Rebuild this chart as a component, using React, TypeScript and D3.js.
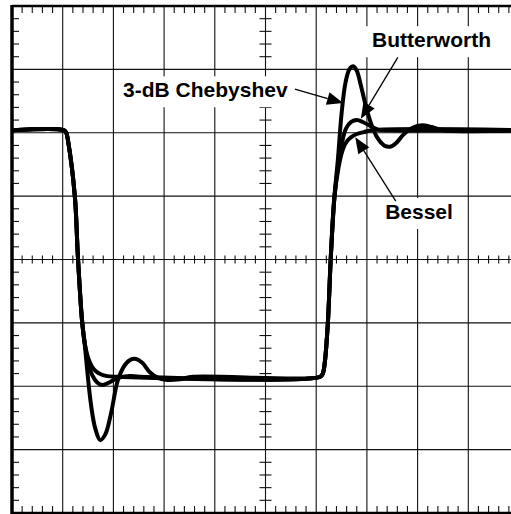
import React, { useEffect, useRef } from 'react';
import * as d3 from 'd3';

type Pt = [number, number];

// time and amplitude both in screen divisions (10 x 8 graticule)
const sharedFall: Pt[] = [
  [0, 2.04], [1.02, 2.04], [1.07, 2.0], [1.11, 1.85], [1.24, 0.99],
  [1.3, 0.04], [1.38, -0.95], [1.43, -1.3],
];
const sharedRise: Pt[] = [
  [6.08, -1.85], [6.13, -1.8], [6.17, -1.62], [6.23, -1.0], [6.29, 0.07], [6.36, 0.99],
];

const chebyFall: Pt[] = [
  [1.49, -1.8], [1.56, -2.3], [1.64, -2.66], [1.74, -2.85], [1.84, -2.76], [1.95, -2.44],
  [2.09, -1.9], [2.23, -1.66], [2.34, -1.58], [2.45, -1.57], [2.57, -1.63], [2.72, -1.78],
  [2.86, -1.86], [3.06, -1.9], [3.31, -1.89], [3.57, -1.85],
];
const chebyRise: Pt[] = [
  [6.43, 1.6], [6.5, 2.3], [6.58, 2.8], [6.66, 3.01], [6.73, 3.05], [6.8, 2.98],
  [6.88, 2.75], [6.98, 2.42], [7.08, 2.15], [7.2, 1.93], [7.34, 1.8], [7.46, 1.78],
  [7.58, 1.84], [7.72, 1.97], [7.9, 2.08], [8.09, 2.12], [8.28, 2.09], [8.5, 2.04], [10.2, 2.04],
];

const butterFall: Pt[] = [
  [1.5, -1.62], [1.58, -1.82], [1.68, -1.94], [1.78, -1.98], [1.89, -1.95], [2.01, -1.9],
  [2.13, -1.86], [2.33, -1.84], [2.52, -1.85],
];
const butterRise: Pt[] = [
  [6.44, 1.52], [6.51, 1.85], [6.59, 2.07], [6.69, 2.17], [6.8, 2.2], [6.92, 2.17],
  [7.06, 2.11], [7.22, 2.05], [7.45, 2.04], [10.2, 2.04],
];

const besselFall: Pt[] = [
  [1.5, -1.55], [1.57, -1.68], [1.65, -1.76], [1.75, -1.81], [1.88, -1.84], [2.05, -1.85],
];
const besselRise: Pt[] = [
  [6.44, 1.45], [6.51, 1.7], [6.59, 1.85], [6.69, 1.93], [6.8, 1.98], [6.94, 2.01],
  [7.1, 2.04], [10.2, 2.04],
];

const seriesNames = ['3-dB Chebyshev', 'Butterworth', 'Bessel'];

// label anchor (text start, baseline) and arrow tail -> tip, in divisions
const labelAt: Pt[] = [[2.19, 2.56], [7.1, 3.35], [7.36, 0.64]];
const arrowFrom: Pt[] = [[5.58, 2.69], [7.61, 3.19], [7.57, 0.92]];
const arrowTo: Pt[] = [[6.53, 2.47], [6.88, 2.22], [6.77, 1.93]];

const W = 511;
const H = 514;

const App: React.FC = () => {
  const svgRef = useRef<SVGSVGElement>(null);

  useEffect(() => {
    if (!svgRef.current) return;
    const svg = d3.select(svgRef.current);
    svg.selectAll('*').remove();

    const x = d3.scaleLinear().domain([0, 10]).range([12, 519]);
    const y = d3.scaleLinear().domain([-4, 4]).range([513, 6]);

    svg.append('rect').attr('width', W).attr('height', H).attr('fill', '#fff');

    const grid = svg.append('g').attr('stroke', '#111').attr('stroke-width', 1.1);

    // major divisions
    d3.range(1, 10).forEach(i => {
      grid.append('line')
        .attr('x1', x(i)).attr('x2', x(i)).attr('y1', y(4)).attr('y2', y(-4));
    });
    d3.range(-3, 4).forEach(j => {
      grid.append('line')
        .attr('x1', x(0)).attr('x2', x(10)).attr('y1', y(j)).attr('y2', y(j));
    });

    // minor ticks
    const xMinor = d3.range(1, 50).map(k => k / 5).filter(v => Math.abs(v - Math.round(v)) > 1e-6);
    const yMinor = d3.range(-19, 20).map(k => k / 5).filter(v => Math.abs(v - Math.round(v)) > 1e-6);
    xMinor.forEach(v => {
      grid.append('line').attr('x1', x(v)).attr('x2', x(v)).attr('y1', y(4)).attr('y2', y(4) + 7);
      grid.append('line').attr('x1', x(v)).attr('x2', x(v)).attr('y1', y(-4)).attr('y2', y(-4) - 7);
      grid.append('line').attr('x1', x(v)).attr('x2', x(v)).attr('y1', y(0) - 4).attr('y2', y(0) + 4);
    });
    yMinor.forEach(v => {
      grid.append('line').attr('x1', x(0)).attr('x2', x(0) + 7).attr('y1', y(v)).attr('y2', y(v));
      grid.append('line').attr('x1', x(5) - 6).attr('x2', x(5) + 6).attr('y1', y(v)).attr('y2', y(v));
    });

    // frame
    svg.append('line').attr('x1', x(0)).attr('x2', x(10)).attr('y1', y(4)).attr('y2', y(4))
      .attr('stroke', '#000').attr('stroke-width', 2.5);
    svg.append('line').attr('x1', x(0)).attr('x2', x(10)).attr('y1', y(-4)).attr('y2', y(-4))
      .attr('stroke', '#000').attr('stroke-width', 2.5);
    svg.append('line').attr('x1', x(0)).attr('x2', x(0)).attr('y1', y(4) - 1).attr('y2', y(-4) + 1)
      .attr('stroke', '#000').attr('stroke-width', 3.5);

    // labels with white backing boxes
    const labels = svg.append('g');
    seriesNames.forEach((name, i) => {
      const g = labels.append('g');
      const t = g.append('text')
        .attr('x', x(labelAt[i][0]))
        .attr('y', y(labelAt[i][1]))
        .attr('font-family', '"Liberation Sans", Arial, Helvetica, sans-serif')
        .attr('font-weight', 'bold')
        .attr('font-size', 21)
        .attr('fill', '#000')
        .text(name);
      const bb = (t.node() as SVGTextElement).getBBox();
      g.insert('rect', 'text')
        .attr('x', bb.x - 7).attr('y', bb.y - 2)
        .attr('width', bb.width + 14).attr('height', bb.height + 8)
        .attr('fill', '#fff');
    });

    // waveforms
    const line = d3.line<Pt>()
      .x(d => x(d[0]))
      .y(d => y(d[1]))
      .curve(d3.curveCatmullRom.alpha(0.5));

    const traces: Pt[][] = [
      [...sharedFall, ...chebyFall, ...sharedRise, ...chebyRise],
      [...sharedFall, ...butterFall, ...sharedRise, ...butterRise],
      [...sharedFall, ...besselFall, ...sharedRise, ...besselRise],
    ];
    traces.forEach(tr => {
      svg.append('path')
        .datum(tr)
        .attr('fill', 'none')
        .attr('stroke', '#000')
        .attr('stroke-width', 4)
        .attr('stroke-linejoin', 'round')
        .attr('d', line);
    });

    // arrows
    seriesNames.forEach((_, i) => {
      const x0 = x(arrowFrom[i][0]);
      const y0 = y(arrowFrom[i][1]);
      const x1 = x(arrowTo[i][0]);
      const y1 = y(arrowTo[i][1]);
      const len = Math.hypot(x1 - x0, y1 - y0);
      const ux = (x1 - x0) / len;
      const uy = (y1 - y0) / len;
      const headLen = 16;
      const headW = 6.5;
      const bx = x1 - ux * headLen;
      const by = y1 - uy * headLen;
      svg.append('line')
        .attr('x1', x0).attr('y1', y0).attr('x2', bx).attr('y2', by)
        .attr('stroke', '#000').attr('stroke-width', 1.3);
      svg.append('path')
        .attr('d', `M${x1},${y1}L${bx - uy * headW},${by + ux * headW}L${bx + uy * headW},${by - ux * headW}Z`)
        .attr('fill', '#000');
    });
  }, []);

  return (
    <div style={{ position: 'absolute', left: 0, top: 0, width: W, height: H, overflow: 'hidden' }}>
      <svg ref={svgRef} width={W} height={H} viewBox={`0 0 ${W} ${H}`} style={{ display: 'block' }} />
    </div>
  );
};

export default App;
